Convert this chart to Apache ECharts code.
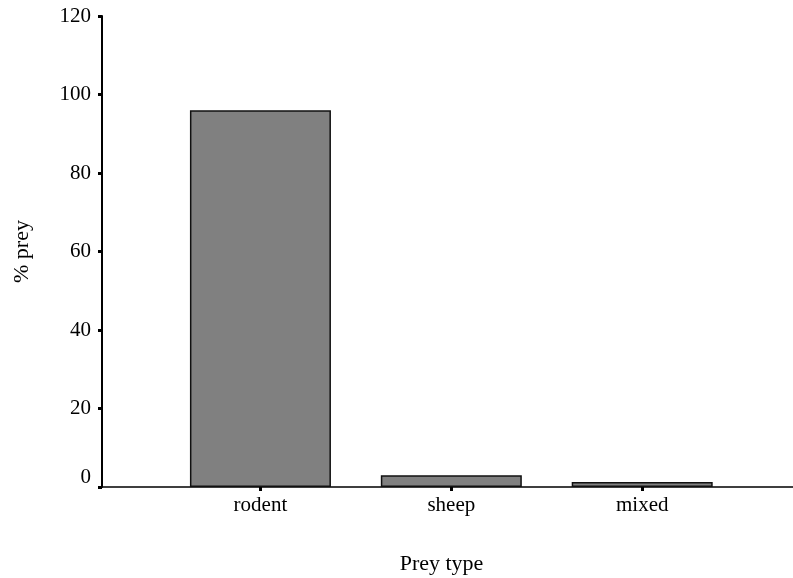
<!DOCTYPE html>
<html>
<head>
<meta charset="utf-8">
<script src="https://cdn.jsdelivr.net/npm/echarts@6/dist/echarts.min.js"></script>
<style>
html, body { margin: 0; padding: 0; background: #fff; }
#chart { width: 793px; height: 578px; }
</style>
</head>
<body>
<div id="chart"></div>
<script>
// Prey composition
const categories = ['rodent', 'sheep', 'mixed'];
const preyPercent = [96, 3, 1.3];
const yTicks = [0, 20, 40, 60, 80, 100, 120];

const font = 'Liberation Serif';
const positions = categories.map((_, i) => i);

const chart = echarts.init(document.getElementById('chart'));
chart.setOption({
  animation: false,
  grid: { left: 102, right: 0, top: 16, bottom: 91, containLabel: false, outerBoundsMode: 'none' },
  xAxis: {
    type: 'value',
    min: -0.83,
    max: 2.79,
    name: 'Prey type',
    nameLocation: 'middle',
    nameGap: 66,
    nameTextStyle: { fontFamily: font, fontSize: 22, color: '#000', padding: [0, 12, 0, 0] },
    splitLine: { show: false },
    axisLine: { show: true, onZero: false, lineStyle: { color: '#000', width: 1.5 } },
    axisTick: { show: true, inside: false, length: 4, customValues: positions, lineStyle: { color: '#000', width: 3 } },
    axisLabel: {
      customValues: positions,
      formatter: v => categories[Math.round(v)] || '',
      fontFamily: font, fontSize: 21, color: '#000', margin: 8
    }
  },
  yAxis: {
    type: 'value',
    min: 0,
    max: 120,
    interval: 20,
    name: '% prey',
    nameLocation: 'middle',
    nameGap: 69,
    nameTextStyle: { fontFamily: font, fontSize: 22, color: '#000' },
    splitLine: { show: false },
    axisLine: { show: true, onZero: false, lineStyle: { color: '#000', width: 2 } },
    axisTick: { show: true, inside: false, length: 4, customValues: yTicks, lineStyle: { color: '#000', width: 3 } },
    axisLabel: {
      fontFamily: font, fontSize: 21, color: '#000', margin: 11,
      // the zero label sits a little above its tick, clear of the category axis
      formatter: v => (v === 0 ? '{zero|0}' : String(v)),
      rich: { zero: { fontFamily: font, fontSize: 21, color: '#000', padding: [0, 0, 20, 0] } }
    }
  },
  series: [{
    type: 'bar',
    barWidth: 141,
    data: preyPercent.map((v, i) => [positions[i], v]),
    itemStyle: { color: '#808080', borderColor: '#111', borderWidth: 1.5 }
  }]
});
</script>
</body>
</html>
